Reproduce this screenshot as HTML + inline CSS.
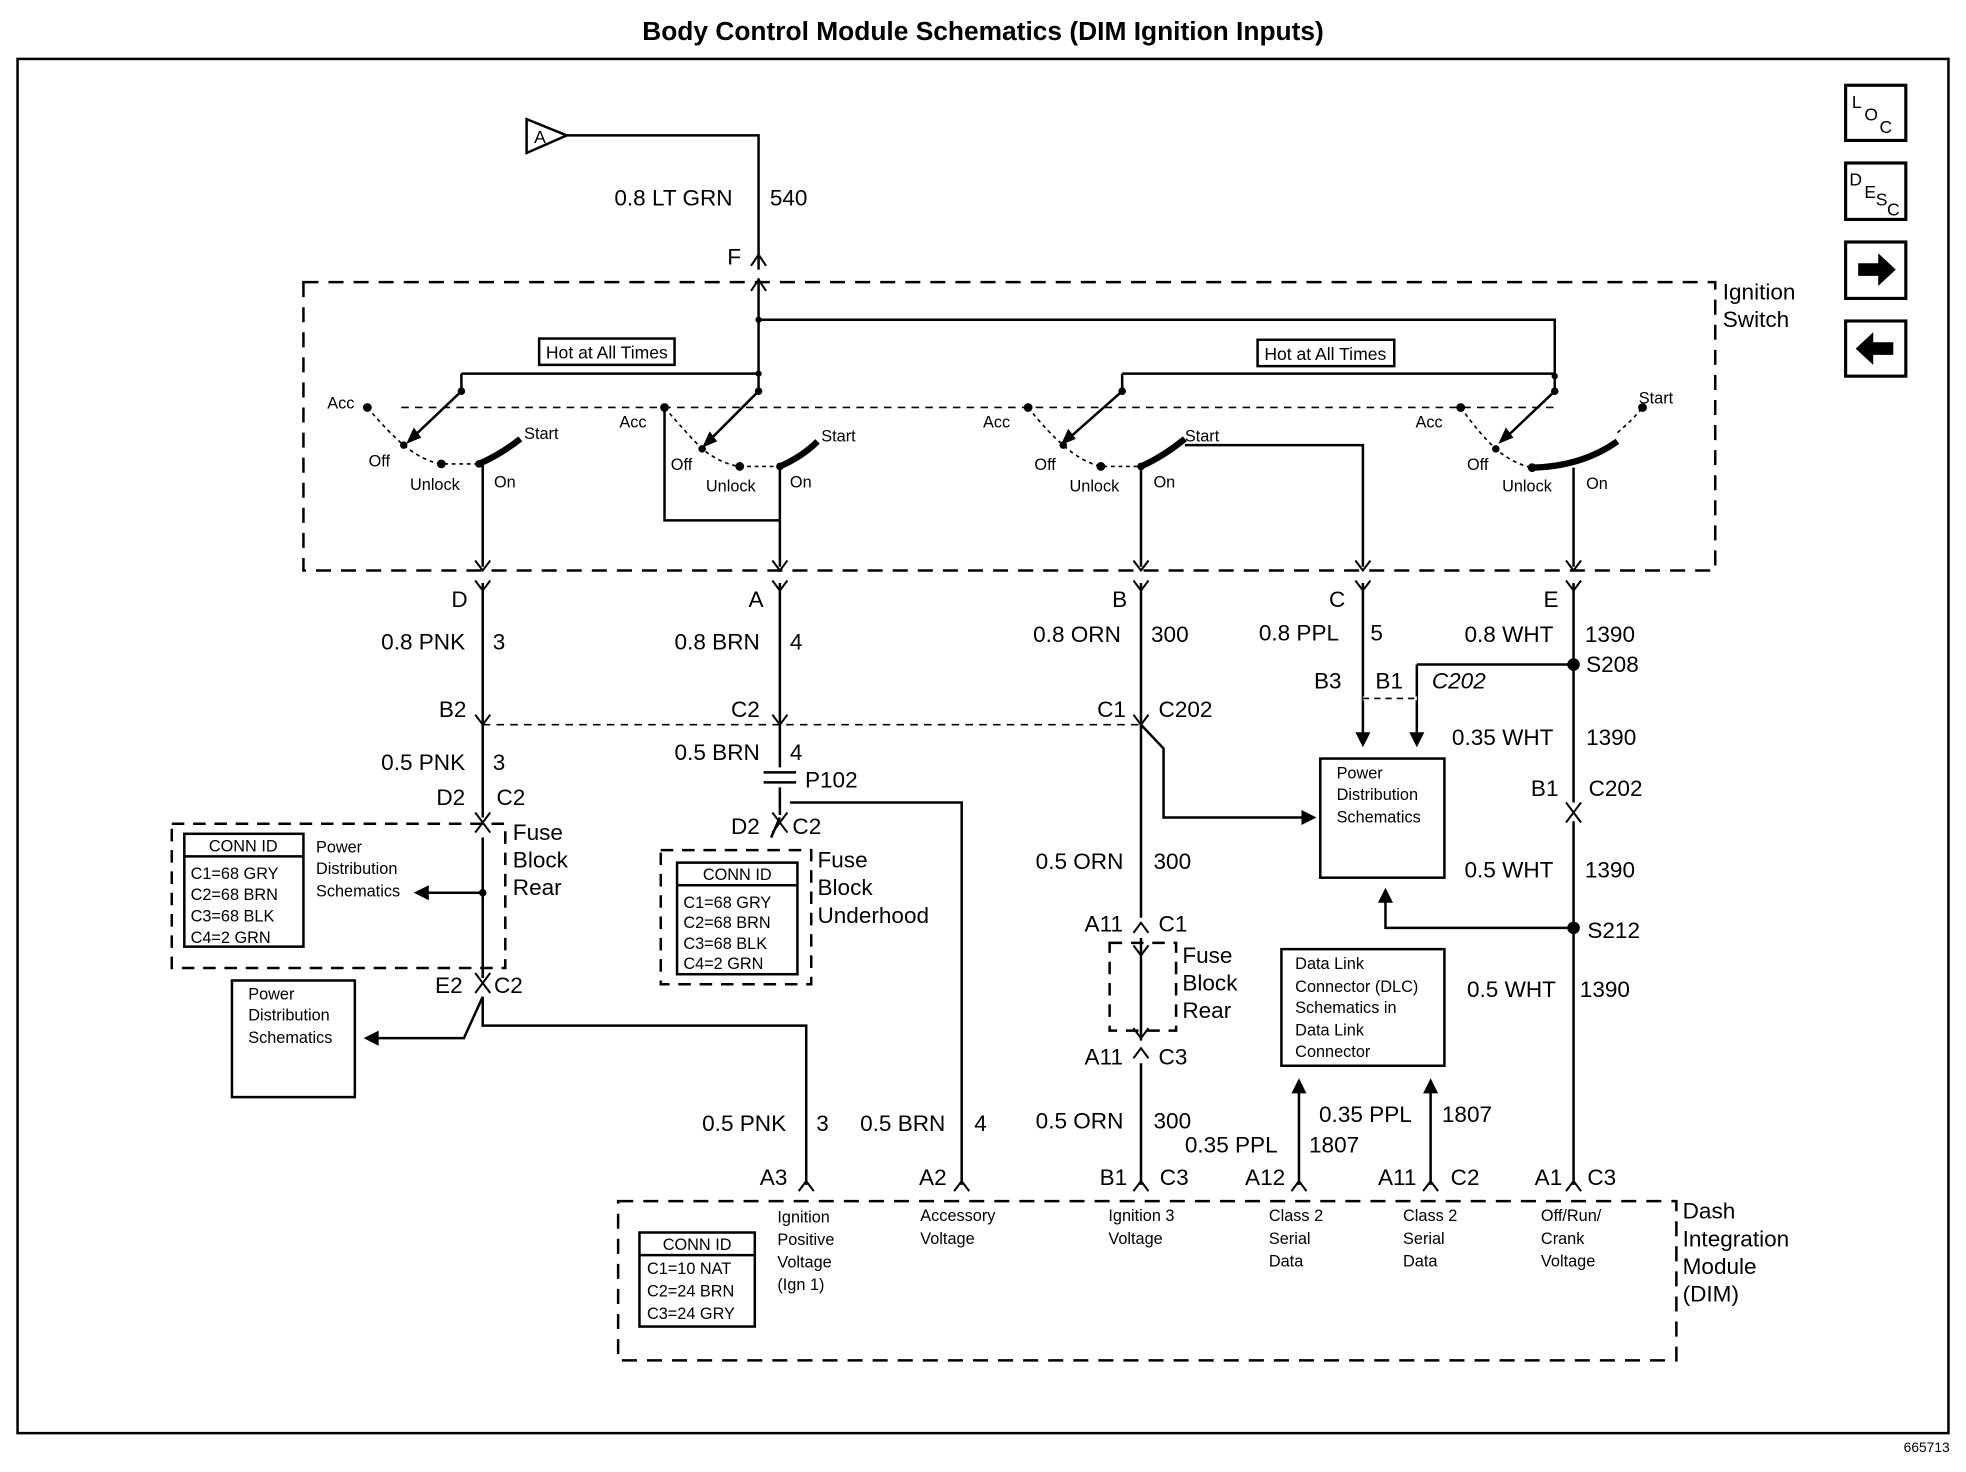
<!DOCTYPE html>
<html><head><meta charset="utf-8"><style>
html,body{margin:0;padding:0;background:#fff}
svg{display:block}
text{font-family:"Liberation Sans",Arial,sans-serif;fill:#000}
.l{font-size:18px}
.s{font-size:13px}
.m{font-size:14px}
</style></head><body>
<svg width="1966" height="1472" viewBox="0 0 1568 1174" xmlns="http://www.w3.org/2000/svg">
<rect width="1568" height="1174" fill="#fff"/>
<text x="784" y="32" text-anchor="middle" style="font-size:21px;font-weight:bold">Body Control Module Schematics (DIM Ignition Inputs)</text>
<rect x="14" y="47" width="1540" height="1096" fill="none" stroke="#000" stroke-width="2"/>
<text x="1555" y="1158" text-anchor="end" style="font-size:11px">665713</text>
<!-- icons -->
<g fill="none" stroke="#000" stroke-width="2.5">
<rect x="1472" y="68" width="48" height="44"/><rect x="1472" y="130" width="48" height="45"/>
<rect x="1472" y="193" width="48" height="45"/><rect x="1472" y="256" width="48" height="44"/>
</g>
<text x="1477" y="86" class="m">L</text><text x="1487" y="96" class="m">O</text><text x="1499" y="106" class="m">C</text>
<text x="1475" y="148" class="m">D</text><text x="1487" y="158" class="m">E</text><text x="1496" y="164" class="m">S</text><text x="1505" y="172" class="m">C</text>
<path d="M1482 210h16v-8l14 13-14 13v-8h-16z" fill="#000"/>
<path d="M1510 273h-16v-8l-14 13 14 13v-8h16z" fill="#000"/>

<g fill="none" stroke="#000" stroke-width="2">
<!-- triangle A -->
<path d="M420 95 L452 108 L420 122 Z"/>
<path d="M452 108 H605 V215"/>
<!-- ignition switch box -->
<rect x="242" y="225" width="1126" height="230" stroke-dasharray="12,8"/>
<!-- top bus -->
<path d="M605 222 V298 M605 255 H1240 V300 M368 298 H605 M895 298 H1240"/>
<path d="M368 298 V312 M605 298 V312 M895 298 V312 M1240 300 V312"/>
<path d="M320 325 H1240" stroke-dasharray="6,5" stroke-width="1.3"/>
<!-- levers -->
<path d="M368 312 L328 350 M605 312 L565 352 M895 312 L852 350 M1240 312 L1200 350"/>
<!-- dotted arcs -->
<path d="M293 325 Q310 345 322 355 Q338 368 352 370 H380" stroke-dasharray="3,3" stroke-width="1.3"/>
<path d="M530 325 Q548 346 560 358 Q575 370 590 372 H622" stroke-dasharray="3,3" stroke-width="1.3"/>
<path d="M820 325 Q836 345 848 355 Q862 368 878 372 H910" stroke-dasharray="3,3" stroke-width="1.3"/>
<path d="M1165 325 Q1180 346 1193 358 Q1207 370 1222 373 M1290 345 Q1302 335 1310 325" stroke-dasharray="3,3" stroke-width="1.3"/>
<!-- start arcs thick -->
<path d="M382 370 Q400 362 415 350 M622 372 Q640 364 652 352 M910 372 Q928 364 945 350 M1222 373 Q1262 372 1290 352" stroke-width="5"/>
<!-- outputs -->
<path d="M385 370 V452 M622 372 V452 M910 372 V452 M1255 373 V452"/>
<path d="M530 325 V415 H622"/>
<path d="M945 355 H1087 V452"/>
<!-- column D -->
<path d="M385 465 V652 M385 668 V780 M385 795 V818 H643 V945"/>
<path d="M385 578 H912" stroke-dasharray="6,5" stroke-width="1.3"/>
<rect x="137" y="657" width="266" height="115" stroke-dasharray="10,7"/>
<rect x="147" y="665" width="95" height="90"/>
<path d="M147 683 H242"/>
<path d="M385 712 H338"/>
<rect x="185" y="782" width="98" height="93"/>
<path d="M385 795 L370 828 H296"/>
<!-- column A -->
<path d="M622 465 V612 M622 628 V650 M622 652 L615 668 M630 640 H767 V945"/>
<rect x="527" y="678" width="120" height="107" stroke-dasharray="10,7"/>
<rect x="540" y="688" width="96" height="89"/>
<path d="M540 706 H636"/>
<path d="M609 616 H635 M609 624 H635"/>
<!-- column B -->
<path d="M910 465 V578 L928 597 V652 H1043 M910 578 V732 M910 748 V830 M910 848 V945"/>
<rect x="1053" y="605" width="99" height="95"/>
<rect x="885" y="752" width="53" height="70" stroke-dasharray="10,7"/>
<!-- column C -->
<path d="M1087 465 V588 M1130 530 H1255 M1130 530 V588 M1087 557 H1130" />
<path d="M1087 557 H1130" stroke="#fff" stroke-width="3"/>
<path d="M1087 557 H1130" stroke-dasharray="5,4" stroke-width="1.3"/>
<!-- column E -->
<path d="M1255 465 V640 M1255 655 V945 M1255 740 H1105 V715"/>
<!-- DLC -->
<rect x="1022" y="757" width="130" height="93"/>
<path d="M1036 945 V866 M1141 945 V866"/>
<!-- DIM -->
<rect x="493" y="958" width="844" height="127" stroke-dasharray="12,8"/>
<rect x="510" y="983" width="92" height="75"/>
<path d="M510 1001 H602"/>
<!-- connector chevrons -->
<g stroke-width="1.6">
<path d="M599 212 L605 203 L611 212 M599 232 L605 223 L611 232"/>
<path d="M379 447 L385 455 L391 447 M379 463 L385 471 L391 463"/>
<path d="M616 447 L622 455 L628 447 M616 463 L622 471 L628 463"/>
<path d="M904 447 L910 455 L916 447 M904 463 L910 471 L916 463"/>
<path d="M1081 447 L1087 455 L1093 447 M1081 463 L1087 471 L1093 463"/>
<path d="M1249 447 L1255 455 L1261 447 M1249 463 L1255 471 L1261 463"/>
<path d="M379 570 L385 578 L391 570 M616 570 L622 578 L628 570 M904 570 L910 578 L916 570"/>
<path d="M379 648 L385 656 L391 648 M379 664 L385 656 L391 664"/>
<path d="M379 776 L385 784 L391 776 M379 792 L385 784 L391 792"/>
<path d="M616 648 L622 656 L628 648 M616 664 L622 656 L628 664"/>
<path d="M1249 640 L1255 648 L1261 640 M1249 656 L1255 648 L1261 656"/>
<path d="M904 744 L910 736 L916 744 M904 754 L910 762 L916 754"/>
<path d="M904 820 L910 828 L916 820 M904 844 L910 836 L916 844"/>
<path d="M637 950 L643 942 L649 950 M761 950 L767 942 L773 950 M904 950 L910 942 L916 950 M1030 950 L1036 942 L1042 950 M1135 950 L1141 942 L1147 950 M1249 950 L1255 942 L1261 950"/>
</g>
</g>
<!-- arrowheads -->
<g fill="#000">
<path d="M1081 584 L1093 584 L1087 596 Z M1124 584 L1136 584 L1130 596 Z"/>
<path d="M1050 652 L1038 646 L1038 658 Z"/>
<path d="M1105 708 L1099 720 L1111 720 Z"/>
<path d="M330 712 L342 706 L342 718 Z"/>
<path d="M290 828 L302 822 L302 834 Z"/>
<path d="M1036 860 L1030 872 L1042 872 Z M1141 860 L1135 872 L1147 872 Z"/>
<path d="M324 354 L330 341 L336 349 Z M560 357 L566 344 L572 352 Z M846 355 L852 342 L858 350 Z M1195 354 L1201 341 L1207 349 Z"/>
<circle cx="605" cy="255" r="2.5"/><circle cx="605" cy="298" r="2.5"/><circle cx="1240" cy="300" r="2.5"/>
<circle cx="368" cy="312" r="3"/><circle cx="605" cy="312" r="3"/><circle cx="895" cy="312" r="3"/><circle cx="1240" cy="312" r="3"/>
<circle cx="293" cy="325" r="3.5"/><circle cx="322" cy="355" r="3"/><circle cx="352" cy="370" r="3.5"/><circle cx="382" cy="370" r="3"/>
<circle cx="530" cy="325" r="3.5"/><circle cx="560" cy="358" r="3"/><circle cx="590" cy="372" r="3.5"/><circle cx="622" cy="372" r="3"/>
<circle cx="820" cy="325" r="3.5"/><circle cx="848" cy="355" r="3"/><circle cx="878" cy="372" r="3.5"/><circle cx="910" cy="372" r="3"/>
<circle cx="1165" cy="325" r="3.5"/><circle cx="1193" cy="358" r="3"/><circle cx="1222" cy="373" r="3.5"/><circle cx="1310" cy="325" r="3.5"/>
<circle cx="1255" cy="530" r="5"/><circle cx="1255" cy="740" r="5"/><circle cx="385" cy="712" r="3"/>
</g>
<!-- Hot labels -->
<rect x="430" y="270" width="108" height="21" fill="#fff" stroke="#000" stroke-width="2"/>
<text x="484" y="286" text-anchor="middle" class="m">Hot at All Times</text>
<rect x="1003" y="271" width="109" height="21" fill="#fff" stroke="#000" stroke-width="2"/>
<text x="1057" y="287" text-anchor="middle" class="m">Hot at All Times</text>
<text x="426" y="114" class="m">A</text>
<!-- switch labels -->
<g class="s">
<text x="261" y="326" class="s">Acc</text><text x="294" y="372" class="s">Off</text><text x="327" y="391" class="s">Unlock</text><text x="394" y="389" class="s">On</text><text x="418" y="350" class="s">Start</text>
<text x="494" y="341" class="s">Acc</text><text x="535" y="375" class="s">Off</text><text x="563" y="392" class="s">Unlock</text><text x="630" y="389" class="s">On</text><text x="655" y="352" class="s">Start</text>
<text x="784" y="341" class="s">Acc</text><text x="825" y="375" class="s">Off</text><text x="853" y="392" class="s">Unlock</text><text x="920" y="389" class="s">On</text><text x="945" y="352" class="s">Start</text>
<text x="1129" y="341" class="s">Acc</text><text x="1170" y="375" class="s">Off</text><text x="1198" y="392" class="s">Unlock</text><text x="1265" y="390" class="s">On</text><text x="1307" y="322" class="s">Start</text>
</g>
<!-- large labels -->
<g class="l">
<text x="490" y="164" class="l">0.8 LT GRN</text><text x="614" y="164" class="l">540</text><text x="580" y="211" class="l">F</text>
<text x="1374" y="239" class="l">Ignition</text><text x="1374" y="261" class="l">Switch</text>
<text x="360" y="484" class="l">D</text><text x="597" y="484" class="l">A</text><text x="887" y="484" class="l">B</text><text x="1060" y="484" class="l">C</text><text x="1231" y="484" class="l">E</text>
<text x="304" y="518" class="l">0.8 PNK</text><text x="393" y="518" class="l">3</text>
<text x="538" y="518" class="l">0.8 BRN</text><text x="630" y="518" class="l">4</text>
<text x="824" y="512" class="l">0.8 ORN</text><text x="918" y="512" class="l">300</text>
<text x="1004" y="511" class="l">0.8 PPL</text><text x="1093" y="511" class="l">5</text>
<text x="1168" y="512" class="l">0.8 WHT</text><text x="1264" y="512" class="l">1390</text>
<text x="1265" y="536" class="l">S208</text>
<text x="1048" y="549" class="l">B3</text><text x="1097" y="549" class="l">B1</text><text x="1142" y="549" class="l" font-style="italic">C202</text>
<text x="350" y="572" class="l">B2</text><text x="583" y="572" class="l">C2</text><text x="875" y="572" class="l">C1</text><text x="924" y="572" class="l">C202</text>
<text x="1158" y="594" class="l">0.35 WHT</text><text x="1265" y="594" class="l">1390</text>
<text x="304" y="614" class="l">0.5 PNK</text><text x="393" y="614" class="l">3</text>
<text x="538" y="606" class="l">0.5 BRN</text><text x="630" y="606" class="l">4</text>
<text x="642" y="628" class="l">P102</text>
<text x="1221" y="635" class="l">B1</text><text x="1267" y="635" class="l">C202</text>
<text x="348" y="642" class="l">D2</text><text x="396" y="642" class="l">C2</text>
<text x="583" y="665" class="l">D2</text><text x="632" y="665" class="l">C2</text>
<text x="409" y="670" class="l">Fuse</text><text x="409" y="692" class="l">Block</text><text x="409" y="714" class="l">Rear</text>
<text x="652" y="692" class="l">Fuse</text><text x="652" y="714" class="l">Block</text><text x="652" y="736" class="l">Underhood</text>
<text x="826" y="693" class="l">0.5 ORN</text><text x="920" y="693" class="l">300</text>
<text x="1168" y="700" class="l">0.5 WHT</text><text x="1264" y="700" class="l">1390</text>
<text x="865" y="743" class="l">A11</text><text x="924" y="743" class="l">C1</text>
<text x="1266" y="748" class="l">S212</text>
<text x="943" y="768" class="l">Fuse</text><text x="943" y="790" class="l">Block</text><text x="943" y="812" class="l">Rear</text>
<text x="1170" y="795" class="l">0.5 WHT</text><text x="1260" y="795" class="l">1390</text>
<text x="347" y="792" class="l">E2</text><text x="394" y="792" class="l">C2</text>
<text x="865" y="849" class="l">A11</text><text x="924" y="849" class="l">C3</text>
<text x="1052" y="895" class="l">0.35 PPL</text><text x="1150" y="895" class="l">1807</text>
<text x="560" y="902" class="l">0.5 PNK</text><text x="651" y="902" class="l">3</text>
<text x="686" y="902" class="l">0.5 BRN</text><text x="777" y="902" class="l">4</text>
<text x="826" y="900" class="l">0.5 ORN</text><text x="920" y="900" class="l">300</text>
<text x="945" y="919" class="l">0.35 PPL</text><text x="1044" y="919" class="l">1807</text>
<text x="606" y="945" class="l">A3</text><text x="733" y="945" class="l">A2</text><text x="877" y="945" class="l">B1</text><text x="925" y="945" class="l">C3</text>
<text x="993" y="945" class="l">A12</text><text x="1099" y="945" class="l">A11</text><text x="1157" y="945" class="l">C2</text><text x="1224" y="945" class="l">A1</text><text x="1266" y="945" class="l">C3</text>
<text x="1342" y="972" class="l">Dash</text><text x="1342" y="994" class="l">Integration</text><text x="1342" y="1016" class="l">Module</text><text x="1342" y="1038" class="l">(DIM)</text>
</g>
<!-- small text blocks -->
<g class="s">
<text x="252" y="680" class="s">Power</text><text x="252" y="697" class="s">Distribution</text><text x="252" y="715" class="s">Schematics</text>
<text x="194" y="679" text-anchor="middle" class="s">CONN ID</text>
<text x="152" y="701" class="s">C1=68 GRY</text><text x="152" y="718" class="s">C2=68 BRN</text><text x="152" y="735" class="s">C3=68 BLK</text><text x="152" y="752" class="s">C4=2 GRN</text>
<text x="588" y="702" text-anchor="middle" class="s">CONN ID</text>
<text x="545" y="724" class="s">C1=68 GRY</text><text x="545" y="740" class="s">C2=68 BRN</text><text x="545" y="757" class="s">C3=68 BLK</text><text x="545" y="773" class="s">C4=2 GRN</text>
<text x="198" y="797" class="s">Power</text><text x="198" y="814" class="s">Distribution</text><text x="198" y="832" class="s">Schematics</text>
<text x="1066" y="621" class="s">Power</text><text x="1066" y="638" class="s">Distribution</text><text x="1066" y="656" class="s">Schematics</text>
<text x="1033" y="773" class="s">Data Link</text><text x="1033" y="791" class="s">Connector (DLC)</text><text x="1033" y="808" class="s">Schematics in</text><text x="1033" y="826" class="s">Data Link</text><text x="1033" y="843" class="s">Connector</text>
<text x="556" y="997" text-anchor="middle" class="s">CONN ID</text>
<text x="516" y="1016" class="s">C1=10 NAT</text><text x="516" y="1034" class="s">C2=24 BRN</text><text x="516" y="1052" class="s">C3=24 GRY</text>
<text x="620" y="975" class="s">Ignition</text><text x="620" y="993" class="s">Positive</text><text x="620" y="1011" class="s">Voltage</text><text x="620" y="1029" class="s">(Ign 1)</text>
<text x="734" y="974" class="s">Accessory</text><text x="734" y="992" class="s">Voltage</text>
<text x="884" y="974" class="s">Ignition 3</text><text x="884" y="992" class="s">Voltage</text>
<text x="1012" y="974" class="s">Class 2</text><text x="1012" y="992" class="s">Serial</text><text x="1012" y="1010" class="s">Data</text>
<text x="1119" y="974" class="s">Class 2</text><text x="1119" y="992" class="s">Serial</text><text x="1119" y="1010" class="s">Data</text>
<text x="1229" y="974" class="s">Off/Run/</text><text x="1229" y="992" class="s">Crank</text><text x="1229" y="1010" class="s">Voltage</text>
</g>
</svg>
</body></html>
